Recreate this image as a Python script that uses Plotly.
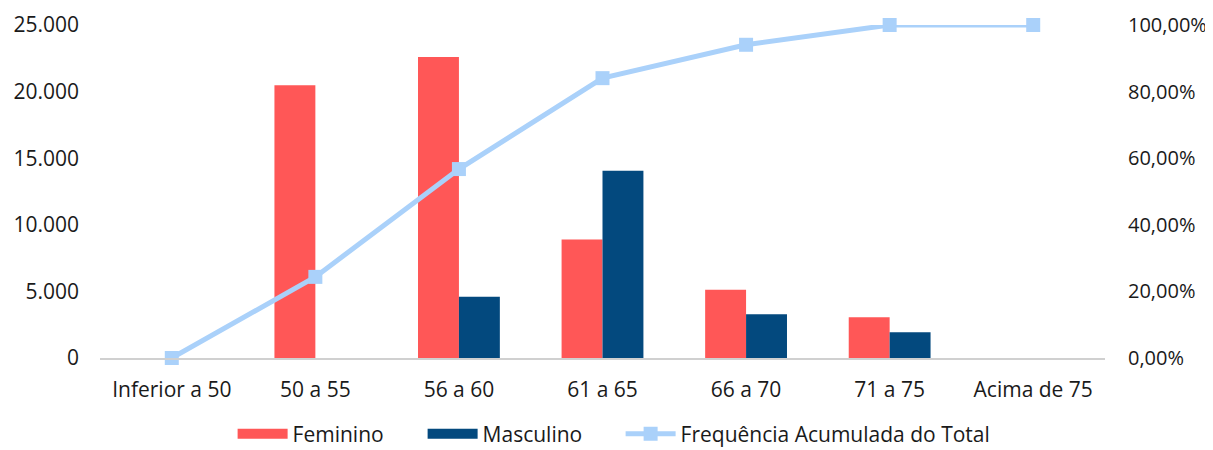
import plotly.graph_objects as go

categories = ["Inferior a 50", "50 a 55", "56 a 60", "61 a 65", "66 a 70", "71 a 75", "Acima de 75"]
feminino = [0, 20470, 22600, 8890, 5130, 3050, 0]
masculino = [0, 0, 4600, 14050, 3290, 1940, 0]
freq_acumulada = [0.0, 0.2436, 0.5674, 0.8404, 0.9406, 1.0, 1.0]

FONT = "Open Sans"
RED = "#FF5757"
NAVY = "#03497E"
LIGHT = "#AAD1FA"
FS = 21

fig = go.Figure()
fig.add_trace(go.Bar(x=categories, y=feminino, name="Feminino", marker_color=RED,
                     marker_line_width=0, showlegend=False))
fig.add_trace(go.Bar(x=categories, y=masculino, name="Masculino", marker_color=NAVY,
                     marker_line_width=0, showlegend=False))
fig.add_trace(go.Scatter(x=categories, y=freq_acumulada, name="Frequência Acumulada do Total",
                         yaxis="y2", mode="lines+markers", cliponaxis=False,
                         line=dict(color=LIGHT, width=5),
                         marker=dict(symbol="square", size=14, color=LIGHT),
                         showlegend=False))
# legend entries (swatches)
fig.add_trace(go.Scatter(x=[None], y=[None], mode="lines", name="Feminino",
                         line=dict(color=RED, width=13), legendwidth=125))
fig.add_trace(go.Scatter(x=[None], y=[None], mode="lines", name="Masculino",
                         line=dict(color=NAVY, width=13), legendwidth=133))
fig.add_trace(go.Scatter(x=[None], y=[None], mode="lines+markers", name="Frequência Acumulada do Total",
                         line=dict(color=LIGHT, width=5),
                         marker=dict(symbol="square", size=14, color=LIGHT)))

fig.update_layout(
    width=1205, height=442,
    margin=dict(l=92, r=108, t=17, b=92, autoexpand=False),
    paper_bgcolor="white", plot_bgcolor="white",
    separators=",.",
    barmode="group", bargap=0.43, bargroupgap=0,
    font=dict(family=FONT, size=FS, color="#1a1a1a"),
    xaxis=dict(showgrid=False, showline=True, linecolor="#D0D0D0", linewidth=2,
               ticks="", tickfont=dict(size=FS), ticklabelstandoff=12),
    yaxis=dict(range=[0, 25000], dtick=5000, tickformat=",d", showgrid=False,
               zeroline=False, showline=False, ticks="", tickfont=dict(size=FS),
               ticklabelstandoff=20),
    yaxis2=dict(range=[0, 1], dtick=0.2, tickformat=".2%", overlaying="y", side="right",
                showgrid=False, zeroline=False, showline=False, ticks="", tickfont=dict(size=20),
                ticklabelstandoff=22),
    legend=dict(orientation="h", x=0.503, xanchor="center", xref="container",
                y=0.036, yanchor="middle", yref="container",
                font=dict(size=FS), traceorder="normal", itemwidth=50),
    showlegend=True,
)

fig.write_html("out.html")
